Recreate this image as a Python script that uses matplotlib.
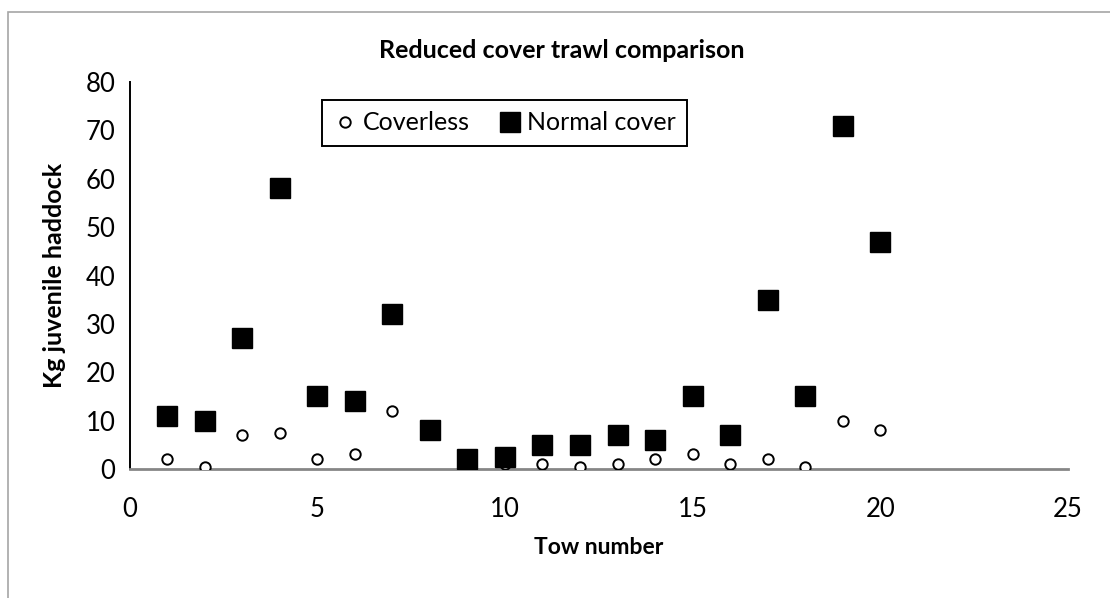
import matplotlib.pyplot as plt
from matplotlib.patches import Rectangle

plt.rcParams['font.family'] = ['Lato', 'DejaVu Sans']

# tow numbers and catch (kg juvenile haddock)
tows = list(range(1, 21))
coverless = [2, 0.5, 7, 7.5, 2, 3, 12, 7.5, 0, 1, 1, 0.5, 1, 2, 3, 1, 2, 0.5, 10, 8]
normal_cover = [11, 10, 27, 58, 15, 14, 32, 8, 2, 2.5, 5, 5, 7, 6, 15, 7, 35, 15, 71, 47]

fig = plt.figure(figsize=(11.1, 5.98), dpi=100, facecolor='w')
ax = fig.add_axes([129.5/1110, 1-469/598, (1068-129.5)/1110, (469-82)/598])

# outer chart border (only left/top visible in reference)
fig.patches.append(Rectangle((8/1110, -0.1), 1.2, 1-12/598+0.1, transform=fig.transFigure,
                             fill=False, edgecolor='#a6a6a6', linewidth=1.2, clip_on=False))

ax.plot(tows, coverless, linestyle='none', marker='o', markersize=7.5,
        markerfacecolor='white', markeredgecolor='black', markeredgewidth=1.4,
        label='Coverless', zorder=3)
ax.plot(tows, normal_cover, linestyle='none', marker='s', markersize=14.5,
        markerfacecolor='black', markeredgecolor='black', label='Normal cover', zorder=4)

ax.set_xlim(0, 25)
ax.set_ylim(0, 80)
ax.set_xticks([0, 5, 10, 15, 20, 25])
ax.set_yticks(range(0, 81, 10))
ax.tick_params(length=0, labelsize=18.5, pad=10)
ax.tick_params(axis='x', pad=20)

for s in ['top', 'right']:
    ax.spines[s].set_visible(False)
ax.spines['left'].set_color('black')
ax.spines['left'].set_linewidth(1.4)
ax.spines['bottom'].set_color('#868686')
ax.spines['bottom'].set_linewidth(2)

fig.text(562/1110, 1-50/598, 'Reduced cover trawl comparison', ha='center', va='center',
         fontsize=18, fontweight='bold')
fig.text(599/1110, 1-548/598, 'Tow number', ha='center', va='center',
         fontsize=16.5, fontweight='bold')
fig.text(54/1110, 1-275/598, 'Kg juvenile haddock', ha='center', va='center',
         rotation=90, fontsize=18, fontweight='bold')

leg = ax.legend(loc='center', bbox_to_anchor=(504.5/1110, 1-123/598),
                bbox_transform=fig.transFigure, ncol=2, fontsize=18,
                fancybox=False, framealpha=1, edgecolor='black',
                handletextpad=0.2, columnspacing=1.1, borderpad=0.45,
                handlelength=1.0, borderaxespad=0)
leg.get_frame().set_linewidth(1.4)

fig.savefig('out.png', dpi=100)
